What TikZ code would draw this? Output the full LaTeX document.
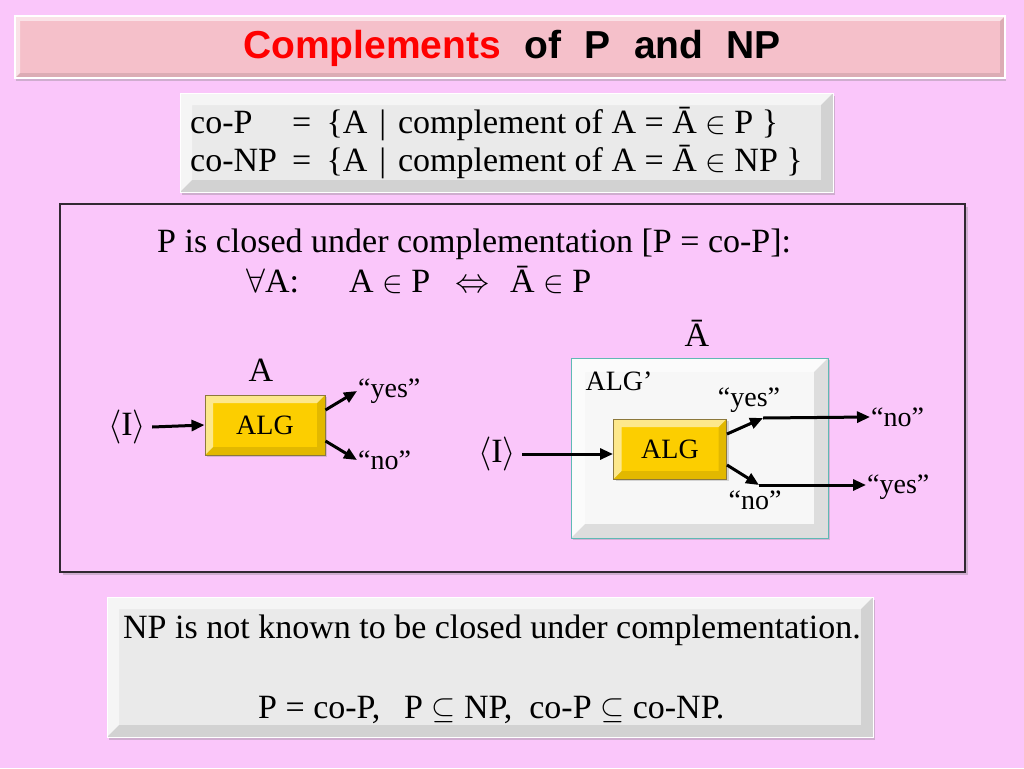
\RequirePackage{fix-cm}
\documentclass[tikz,border=0pt]{standalone}
\usepackage{fontspec}
\setmainfont{Liberation Serif}
\newfontfamily\titlefont{Liberation Sans}
\usetikzlibrary{arrows.meta,shadows}
\newcommand{\myin}{{\fontsize{31}{34}\selectfont$\in$}}
\newcommand{\mysub}{{\fontsize{31}{34}\selectfont$\subseteq$}}
\definecolor{bgpink}{RGB}{250,198,250}
\definecolor{titlepink}{RGB}{245,192,202}
\definecolor{boxgray}{RGB}{234,234,234}
\definecolor{algold}{RGB}{252,206,0}
\definecolor{algedge}{RGB}{140,120,60}
\definecolor{tealedge}{RGB}{95,185,180}
\definecolor{frameedge}{RGB}{50,40,50}
\tikzset{
  bevel/.style={path picture={
    \fill[white,opacity=0.55] (path picture bounding box.south west) -- (path picture bounding box.north west) -- (path picture bounding box.north east) -- ([xshift=-#1,yshift=-#1]path picture bounding box.north east) -- ([xshift=#1,yshift=-#1]path picture bounding box.north west) -- ([xshift=#1,yshift=#1]path picture bounding box.south west) -- cycle;
    \fill[black,opacity=0.10] (path picture bounding box.south west) -- (path picture bounding box.south east) -- (path picture bounding box.north east) -- ([xshift=-#1,yshift=-#1]path picture bounding box.north east) -- ([xshift=-#1,yshift=#1]path picture bounding box.south east) -- ([xshift=#1,yshift=#1]path picture bounding box.south west) -- cycle;
  }},
  graybox/.style={rectangle, inner sep=0pt, fill=boxgray, draw=white, line width=1pt, bevel=12pt,
    drop shadow={shadow xshift=2pt, shadow yshift=-3pt, opacity=0.35}},
  algbox/.style={rectangle, inner sep=0pt, fill=algold, draw=algedge, line width=1pt, bevel=8pt,
    drop shadow={shadow xshift=2pt, shadow yshift=-2pt, opacity=0.3},
    font=\fontsize{28}{32}\selectfont},
  body/.style={inner sep=0pt, font=\fontsize{34}{40}\selectfont},
  small/.style={inner sep=1pt, font=\fontsize{28}{32}\selectfont},
  arr/.style={line width=3pt, -{Triangle[length=13pt,width=11pt]}},
}
\begin{document}
\begin{tikzpicture}[x=1pt,y=-1pt]
\fill[bgpink] (0,0) rectangle (1024,768);
\useasboundingbox (0,0) rectangle (1024,768);

% title
\node[rectangle, inner sep=0pt, minimum width=990pt, minimum height=62pt, fill=titlepink, draw=white, line width=2.5pt, bevel=5pt,
  drop shadow={shadow xshift=1pt, shadow yshift=-3pt, opacity=0.35}] (title) at (510,47) {};
\node[inner sep=0pt, font=\titlefont\bfseries\fontsize{39}{44}\selectfont] (titletext) at (512,48)
  {\textcolor{red}{Complements}\hspace{0.6em}of\hspace{0.6em}P\hspace{0.6em}and\hspace{0.6em}NP};

% definitions box
\node[graybox, minimum width=653pt, minimum height=99pt] (defbox) at (506.5,142.5) {};
\node[body, anchor=base west] (copL) at (190,133) {co-P};
\node[body, anchor=base west] (copR) at (292,133) {=\hspace{0.45em}\{A\hspace{0.35em}|\hspace{0.35em}complement of A = Ā \myin{} P \}};
\node[body, anchor=base west] (conpL) at (190,171) {co-NP};
\node[body, anchor=base west] (conpR) at (292,171) {=\hspace{0.45em}\{A\hspace{0.35em}|\hspace{0.35em}complement of A = Ā \myin{} NP \}};

% middle frame
\node[rectangle, inner sep=0pt, minimum width=905pt, minimum height=368pt, fill=bgpink, draw=frameedge, line width=2.5pt,
  drop shadow={shadow xshift=3pt, shadow yshift=-3pt, opacity=0.35}] (frame) at (512.5,388) {};
\node[body, anchor=base west] (closed) at (157,252) {P is closed under complementation [P = co-P]:};
\node[body, anchor=base west] (forall) at (246,292) {$\forall$A:};
\node[body, anchor=base west] (ainp) at (349,292) {A \myin{} P};
\node[body, anchor=base west] (iff) at (455,292) {$\Leftrightarrow$};
\node[body, anchor=base west] (abarinp) at (510,292) {Ā \myin{} P};

% left algorithm
\node[body] (labA) at (261,370) {A};
\node[algbox, minimum width=120pt, minimum height=60pt] (alg1) at (265,425) {ALG};
\node[body, inner sep=6pt] (I1) at (127,427) {$\langle$I$\rangle$};
\node[small, anchor=west] (yes1) at (357,391) {“yes”};
\node[small, anchor=west] (no1) at (357,460) {“no”};
\draw[arr] (I1.east) -- (alg1.west);
\draw[arr] ([yshift=15pt]alg1.east) -- (yes1.west);
\draw[arr] ([yshift=-16pt]alg1.east) -- (no1.west);

% right algorithm
\node[body] (labAbar) at (697,333) {Ā};
\node[rectangle, inner sep=0pt, minimum width=257pt, minimum height=180pt, fill=white!97!black, draw=tealedge, line width=1pt, bevel=14pt,
  drop shadow={shadow xshift=2pt, shadow yshift=-2pt, opacity=0.3}] (algp) at (699.5,448) {};
\node[small] (algplab) at (619,381) {ALG’};
\node[algbox, minimum width=113pt, minimum height=60pt] (alg2) at (670,449) {ALG};
\node[body, inner sep=6pt] (I2) at (497,454) {$\langle$I$\rangle$};
\node[small] (yesin) at (749,400) {“yes”};
\node[small] (noin) at (755,500) {“no”};
\coordinate (c1) at (763,418);
\coordinate (c2) at (759,485);
\node[small, anchor=west] (noout) at (870,417) {“no”};
\node[small, anchor=west] (yesout) at (866,487) {“yes”};
\draw[arr] (I2.east) -- (alg2.west |- I2.east);
\draw[arr] ([yshift=15pt]alg2.east) -- (c1);
\draw[arr] (c1) -- (noout.west);
\draw[arr] ([yshift=-16pt]alg2.east) -- (c2);
\draw[arr] (c2) -- (yesout.west |- c2);

% bottom box
\node[graybox, minimum width=766pt, minimum height=140pt] (npbox) at (490,667) {};
\node[body, anchor=base west] (npline) at (123,638) {NP is not known to be closed under complementation.};
\node[body, anchor=base west] (incl) at (258,718) {P = co-P,\hspace{0.7em}P \mysub{} NP,\hspace{0.5em}co-P \mysub{} co-NP.};
\end{tikzpicture}
\end{document}
